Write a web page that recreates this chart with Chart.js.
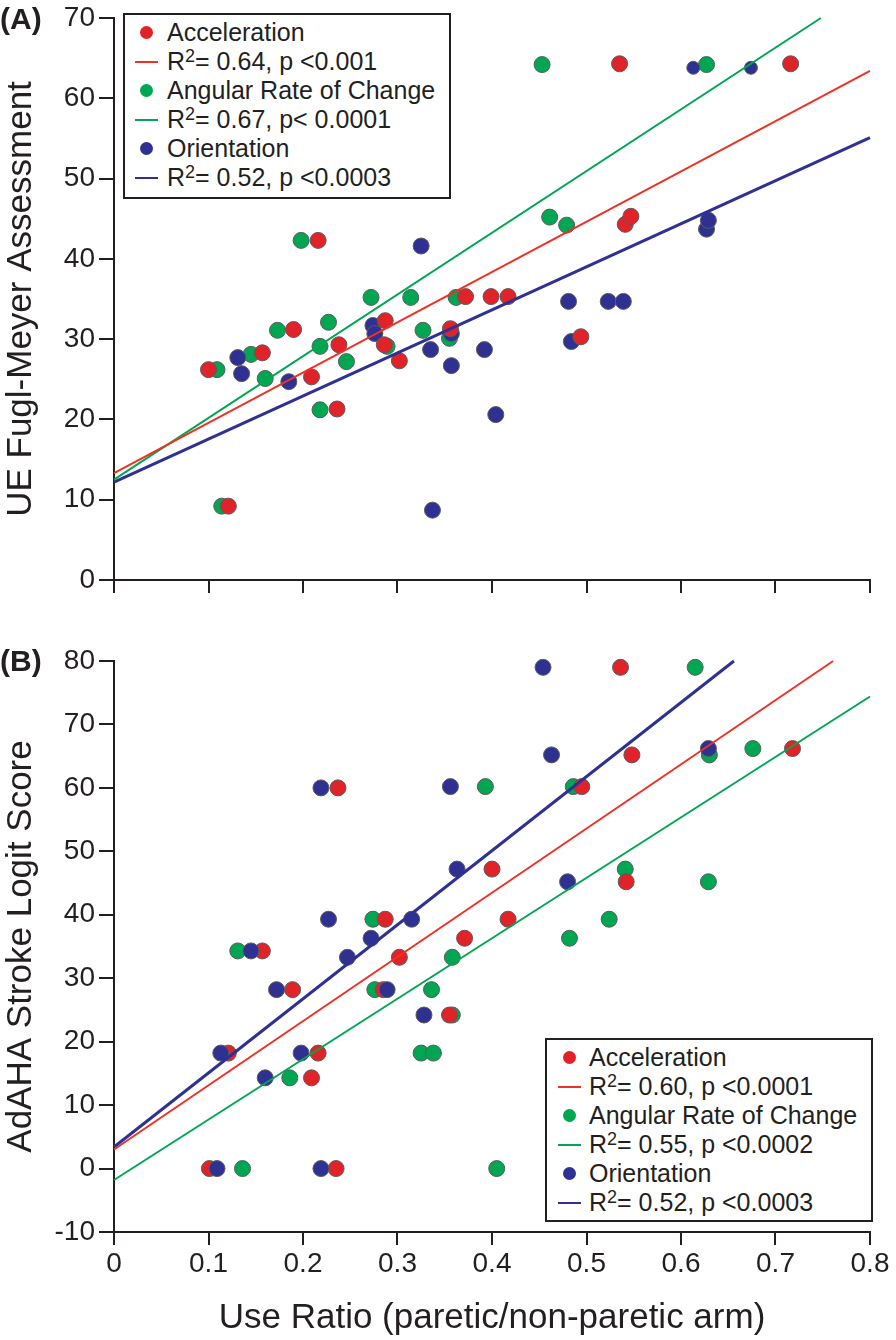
<!DOCTYPE html>
<html>
<head>
<meta charset="utf-8">
<script src="https://cdn.jsdelivr.net/npm/chart.js@4"></script>
<style>
  body { margin: 0; background: #fff; }
  #wrap { position: relative; width: 896px; height: 1340px; overflow: hidden;
          font-family: "Liberation Sans", Arial, Helvetica, sans-serif; color: #231f20; }
  .panel { position: absolute; left: 0; width: 896px; }
  .tag { position: absolute; left: 0; font-weight: bold; font-size: 30px; line-height: 34px; }
  .legend { position: absolute; box-sizing: border-box; width: 328px; border: 2px solid #231f20;
            background: #fff; padding-top: 3px; }
  .legend .row { position: relative; height: 29px; line-height: 29px; font-size: 25px; white-space: nowrap; }
  .legend .row span.txt { position: absolute; top: 0; }
  .legend .dot { position: absolute; top: 8px; width: 13px; height: 13px; border-radius: 50%; }
  .legend .ln { position: absolute; top: 14px; width: 23px; height: 2px; }
  .legend sup { font-size: 0.72em; line-height: 0; vertical-align: 0.42em; }
</style>
</head>
<body>
<div id="wrap">
  <div class="panel" style="top:0;height:600px"><canvas id="chart-a" width="896" height="600"></canvas></div>
  <div class="panel" style="top:620px;height:720px"><canvas id="chart-b" width="896" height="720"></canvas></div>
  <div class="tag" style="top:2px">(A)</div>
  <div class="tag" style="top:644px">(B)</div>
  <div class="legend" id="legend-a" style="left:123px;top:13px;height:186px"></div>
  <div class="legend" id="legend-b" style="left:545px;top:1038px;height:184px"></div>
</div>
<script>
// panel A: UE Fugl-Meyer vs use ratio
const accX_A = [0.100, 0.121, 0.157, 0.190, 0.209, 0.216, 0.236, 0.238, 0.286, 0.287, 0.302, 0.356, 0.372, 0.399, 0.417, 0.494, 0.541, 0.547, 0.535, 0.716];
const accY_A = [26.2, 9.2, 28.3, 31.2, 25.3, 42.3, 21.3, 29.3, 29.3, 32.3, 27.3, 31.3, 35.3, 35.3, 35.3, 30.3, 44.3, 45.3, 64.3, 64.3];
const angX_A = [0.109, 0.114, 0.145, 0.160, 0.173, 0.198, 0.218, 0.218, 0.227, 0.246, 0.272, 0.289, 0.314, 0.327, 0.355, 0.362, 0.453, 0.461, 0.479, 0.627];
const angY_A = [26.2, 9.2, 28.1, 25.1, 31.1, 42.3, 29.1, 21.2, 32.1, 27.2, 35.2, 29.1, 35.2, 31.1, 30.1, 35.2, 64.2, 45.2, 44.2, 64.2];
const oriX_A = [0.131, 0.135, 0.185, 0.274, 0.276, 0.325, 0.335, 0.337, 0.357, 0.357, 0.392, 0.404, 0.481, 0.484, 0.523, 0.539, 0.613, 0.627, 0.629, 0.674];
const oriY_A = [27.7, 25.7, 24.7, 31.7, 30.7, 41.6, 28.7, 8.7, 30.7, 26.7, 28.7, 20.6, 34.7, 29.7, 34.7, 34.7, 63.8, 43.7, 44.8, 63.8];

// regression lines A (end points)
const accFitX_A = [0, 0.8];
const accFitY_A = [13.3, 63.4];
const angFitX_A = [0, 0.748];
const angFitY_A = [12.5, 70];
const oriFitX_A = [0, 0.8];
const oriFitY_A = [12.2, 55.1];

// panel B: AdAHA stroke logit score vs use ratio
const accX_B = [0.101, 0.121, 0.157, 0.189, 0.209, 0.216, 0.235, 0.237, 0.285, 0.287, 0.302, 0.355, 0.371, 0.400, 0.417, 0.495, 0.536, 0.542, 0.548, 0.718];
const accY_B = [0, 18.2, 34.3, 28.2, 14.3, 18.2, 0, 60, 28.2, 39.3, 33.3, 24.2, 36.3, 47.2, 39.3, 60.2, 79, 45.2, 65.2, 66.2];
const angX_B = [0.131, 0.136, 0.186, 0.274, 0.276, 0.325, 0.336, 0.338, 0.358, 0.358, 0.393, 0.405, 0.482, 0.486, 0.524, 0.541, 0.615, 0.629, 0.630, 0.676];
const angY_B = [34.3, 0, 14.3, 39.3, 28.2, 18.2, 28.2, 18.2, 33.3, 24.2, 60.2, 0, 36.3, 60.2, 39.3, 47.2, 79, 45.2, 65.2, 66.2];
const oriX_B = [0.109, 0.113, 0.145, 0.160, 0.172, 0.198, 0.219, 0.219, 0.227, 0.247, 0.272, 0.289, 0.315, 0.328, 0.356, 0.363, 0.454, 0.463, 0.480, 0.629];
const oriY_B = [0, 18.2, 34.3, 14.3, 28.2, 18.2, 0, 60, 39.3, 33.3, 36.3, 28.2, 39.3, 24.2, 60.2, 47.2, 79, 65.2, 45.2, 66.2];

const accFitX_B = [0, 0.761];
const accFitY_B = [3.0, 80];
const angFitX_B = [0, 0.8];
const angFitY_B = [-1.8, 74.4];
const oriFitX_B = [0, 0.656];
const oriFitY_B = [3.4, 80];

const seriesNames = ['Acceleration', 'Angular Rate of Change', 'Orientation'];
const fitLabels_A = ['= 0.64, p <0.001', '= 0.67, p< 0.0001', '= 0.52, p <0.0003'];
const fitLabels_B = ['= 0.60, p <0.0001', '= 0.55, p <0.0002', '= 0.52, p <0.0003'];

const xTicks = [0, 0.1, 0.2, 0.3, 0.4, 0.5, 0.6, 0.7, 0.8];

const INK = '#231f20';
const FONT = '"Liberation Sans", Arial, Helvetica, sans-serif';
const dotColors = ['#e02328', '#00a651', '#2e3192'];
const lineColors = ['#ee3124', '#00a651', '#2e3192'];
const lineWidths = [2, 2, 3];

function pts(xs, ys) {
    return xs.map(function (x, i) { return { x: x, y: ys[i] }; });
}

function fitSet(xs, ys, k) {
    return {
        data: pts(xs, ys),
        showLine: true,
        borderColor: lineColors[k],
        borderWidth: lineWidths[k],
        pointRadius: 0,
        fill: false,
        clip: false,
    };
}

function dotSet(xs, ys, k, radius) {
    return {
        data: pts(xs, ys),
        backgroundColor: dotColors[k],
        borderColor: '#5b5b5b',
        borderWidth: 1,
        pointRadius: radius || 8,
        showLine: false,
        clip: false,
    };
}

function makeChart(id, o) {
    return new Chart(document.getElementById(id).getContext('2d'), {
        type: 'scatter',
        data: { datasets: o.datasets },
        options: {
            responsive: false,
            animation: false,
            events: [],
            layout: { padding: { top: o.padTop, right: 26, left: 0, bottom: 0 } },
            plugins: { legend: { display: false }, tooltip: { enabled: false } },
            scales: {
                x: {
                    type: 'linear',
                    min: 0,
                    max: 0.8,
                    afterBuildTicks: function (s) { s.ticks = xTicks.map(function (v) { return { value: v }; }); },
                    afterFit: function (s) { s.height = o.xHeight; },
                    border: { display: true, color: INK, width: 2 },
                    grid: { drawOnChartArea: false, drawTicks: true, tickLength: 13, color: INK, lineWidth: 2 },
                    ticks: {
                        display: o.xLabels,
                        color: INK,
                        padding: 5,
                        font: { family: FONT, size: 28, lineHeight: 1 },
                        callback: function (v) { return v === 0 ? '0' : Number(v).toFixed(1); },
                    },
                    title: {
                        display: o.xLabels,
                        text: 'Use Ratio (paretic/non-paretic arm)',
                        color: INK,
                        font: { family: FONT, size: 35, lineHeight: 1.2 },
                        padding: { top: 0, bottom: 1 },
                    },
                },
                y: {
                    type: 'linear',
                    min: o.yMin,
                    max: o.yMax,
                    afterFit: function (s) { s.width = 114; },
                    border: { display: true, color: INK, width: 2 },
                    grid: { drawOnChartArea: false, drawTicks: true, tickLength: 15, color: INK, lineWidth: 2 },
                    ticks: {
                        stepSize: 10,
                        color: INK,
                        padding: 4,
                        font: { family: FONT, size: 28, lineHeight: 1 },
                    },
                    title: {
                        display: true,
                        text: o.yTitle,
                        color: INK,
                        font: { family: FONT, size: 35, lineHeight: 1.2 },
                        padding: { top: 0, bottom: 0 },
                    },
                },
            },
        },
    });
}

function buildLegend(id, fitLabels, dotX, lineX, textX) {
    const root = document.getElementById(id);
    const parts = [];
    seriesNames.forEach(function (name, k) {
        parts.push('<div class="row"><span class="dot" style="left:' + (dotX - 6.5) + 'px;background:' + dotColors[k] +
            '"></span><span class="txt" style="left:' + textX + 'px">' + name + '</span></div>');
        parts.push('<div class="row"><span class="ln" style="left:' + lineX + 'px;background:' + lineColors[k] +
            '"></span><span class="txt" style="left:' + textX + 'px">R<sup>2</sup>' + fitLabels[k] + '</span></div>');
    });
    root.innerHTML = parts.join('');
}

// datasets listed first are drawn on top, so the fit lines come first
makeChart('chart-a', {
    padTop: 14,
    xHeight: 20,
    xLabels: false,
    yMin: 0,
    yMax: 70,
    yTitle: 'UE Fugl-Meyer Assessment',
    datasets: [
        fitSet(accFitX_A, accFitY_A, 0),
        fitSet(angFitX_A, angFitY_A, 1),
        fitSet(oriFitX_A, oriFitY_A, 2),
        dotSet(accX_A, accY_A, 0),
        Object.assign(dotSet(oriX_A, oriY_A, 2), {
            pointRadius: function (ctx) { return ctx.raw && ctx.raw.y > 60 ? 6.5 : 8; },
        }),
        dotSet(angX_A, angY_A, 1),
    ],
});

makeChart('chart-b', {
    padTop: 41,
    xHeight: 108,
    xLabels: true,
    yMin: -10,
    yMax: 80,
    yTitle: 'AdAHA Stroke Logit Score',
    datasets: [
        fitSet(accFitX_B, accFitY_B, 0),
        fitSet(angFitX_B, angFitY_B, 1),
        fitSet(oriFitX_B, oriFitY_B, 2),
        dotSet(oriX_B, oriY_B, 2),
        dotSet(accX_B, accY_B, 0),
        dotSet(angX_B, angY_B, 1),
    ],
});

buildLegend('legend-a', fitLabels_A, 21, 10, 42);
buildLegend('legend-b', fitLabels_B, 22, 11, 42);
</script>
</body>
</html>
